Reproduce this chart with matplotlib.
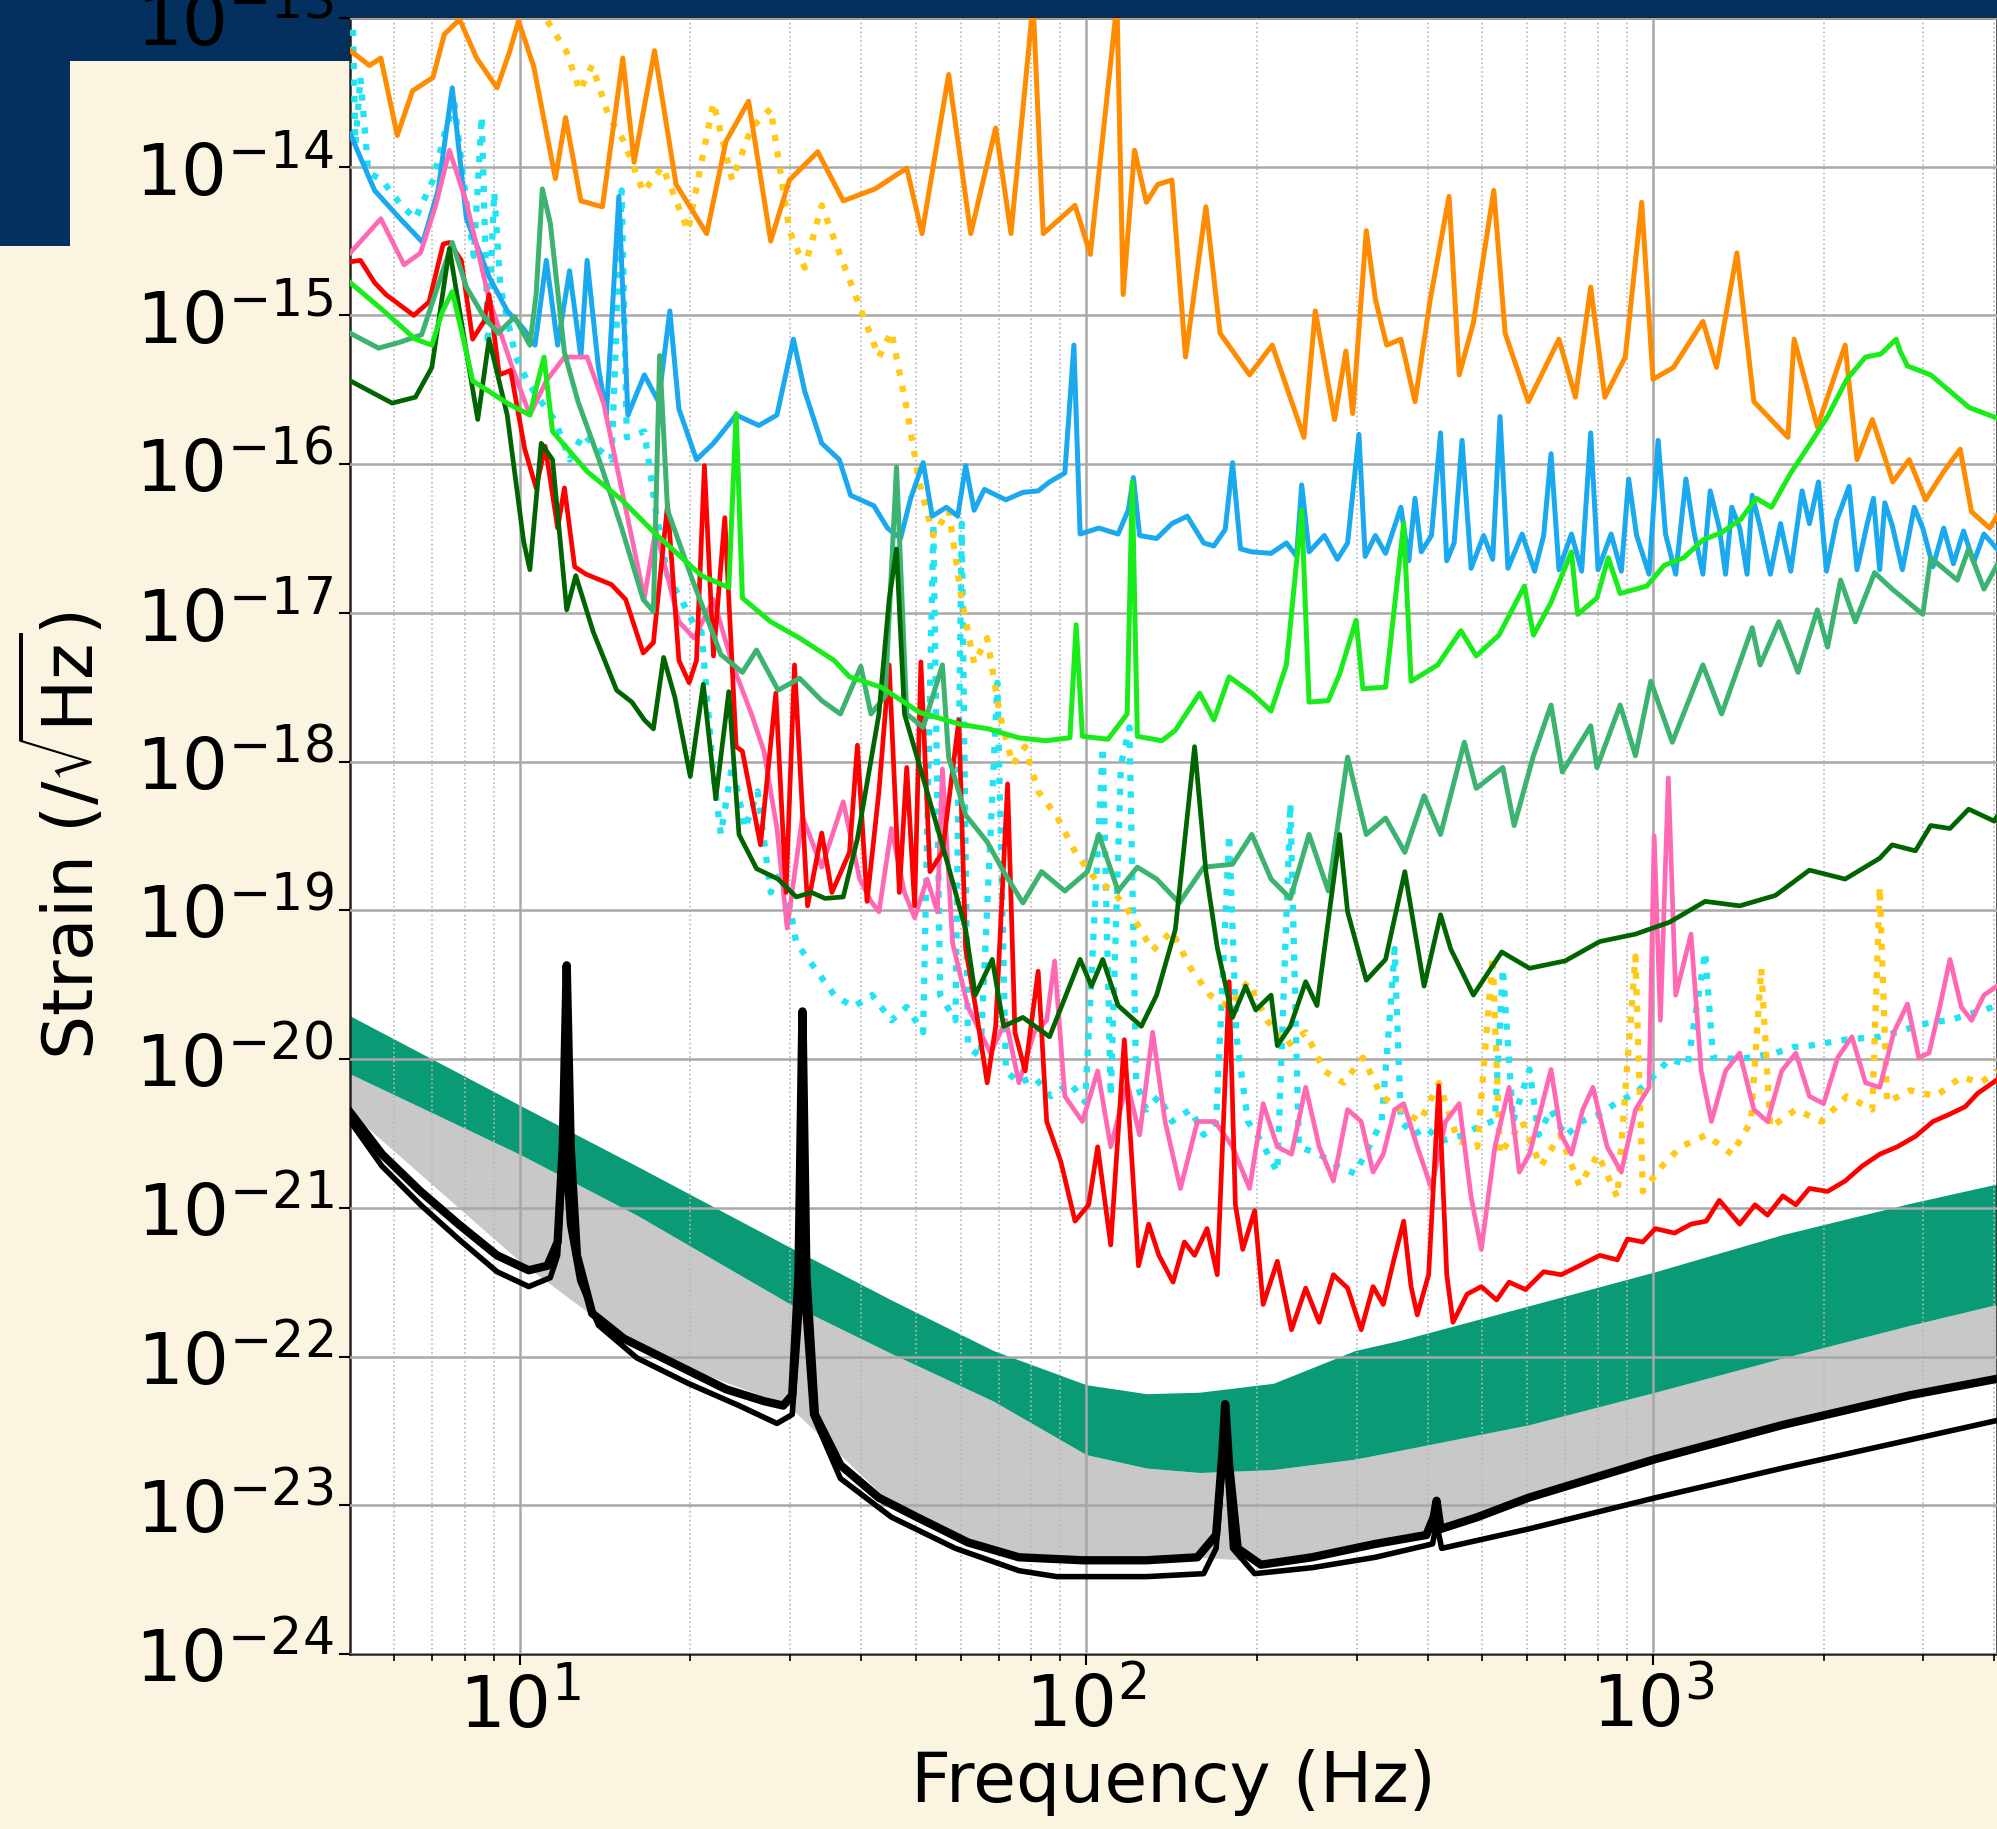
import numpy as np
import matplotlib
matplotlib.use("Agg")
import matplotlib.pyplot as plt
from matplotlib.patches import Rectangle
from matplotlib.ticker import LogLocator, NullLocator

# values as (log10 frequency [Hz], log10 strain)

# design band: shared frequencies, green top / green bottom / grey bottom
band_lf = [0.701, 1.000, 1.207, 1.474, 1.656, 1.836, 2.000, 2.106, 2.200, 2.330,
           2.474, 2.555, 2.780, 3.004, 3.229, 3.454, 3.607]
green_top = [-19.71, -20.31, -20.72, -21.26, -21.62, -21.96, -22.19, -22.25, -22.24, -22.18,
             -21.96, -21.89, -21.66, -21.43, -21.18, -20.97, -20.84]
green_bot = [-20.10, -20.64, -21.05, -21.64, -21.98, -22.30, -22.66, -22.75, -22.78, -22.76,
             -22.69, -22.63, -22.46, -22.24, -22.01, -21.79, -21.65]
gray_bot = [-20.36, -21.36, -21.95, -22.33, -22.99, -23.31, -23.37, -23.37, -23.35, -23.38,
            -23.29, -23.23, -22.95, -22.69, -22.46, -22.26, -22.15]

black_upper = [(0.701, -20.36), (0.757, -20.64), (0.825, -20.89), (0.892, -21.11), (0.960, -21.32),
               (1.016, -21.42), (1.049, -21.39), (1.067, -21.23), (1.076, -20.59), (1.083, -19.37),
               (1.090, -20.59), (1.101, -21.32), (1.128, -21.71), (1.184, -21.88), (1.274, -22.05),
               (1.364, -22.22), (1.431, -22.30), (1.465, -22.33), (1.481, -22.26), (1.492, -21.45),
               (1.499, -19.68), (1.506, -21.45), (1.521, -22.39), (1.566, -22.73), (1.634, -22.95),
               (1.701, -23.08), (1.791, -23.25), (1.881, -23.35), (1.993, -23.37), (2.106, -23.37),
               (2.196, -23.35), (2.229, -23.20), (2.240, -22.65), (2.245, -22.32), (2.252, -22.73),
               (2.267, -23.29), (2.308, -23.40), (2.398, -23.35), (2.510, -23.26), (2.600, -23.20),
               (2.613, -23.08), (2.618, -22.97), (2.625, -23.16), (2.690, -23.08), (2.780, -22.95),
               (3.004, -22.69), (3.229, -22.46), (3.454, -22.26), (3.607, -22.15)]

black_lower = [(0.701, -20.42), (0.757, -20.72), (0.825, -20.98), (0.892, -21.21), (0.960, -21.43),
               (1.016, -21.53), (1.054, -21.47), (1.067, -21.32), (1.079, -20.59), (1.088, -21.11),
               (1.106, -21.49), (1.139, -21.79), (1.207, -22.01), (1.297, -22.18), (1.387, -22.33),
               (1.454, -22.45), (1.481, -22.39), (1.499, -21.45), (1.517, -22.39), (1.566, -22.82),
               (1.656, -23.08), (1.769, -23.29), (1.881, -23.44), (1.948, -23.48), (2.106, -23.48),
               (2.207, -23.46), (2.229, -23.29), (2.245, -22.56), (2.258, -23.29), (2.297, -23.46),
               (2.398, -23.42), (2.510, -23.35), (2.611, -23.26), (2.618, -23.12), (2.627, -23.29),
               (2.780, -23.16), (3.004, -22.95), (3.229, -22.75), (3.454, -22.56), (3.607, -22.43)]

orange = [(0.701, -13.22), (0.735, -13.32), (0.755, -13.27), (0.784, -13.79), (0.811, -13.49),
          (0.847, -13.40), (0.867, -13.11), (0.894, -13.01), (0.924, -13.27), (0.960, -13.47),
          (0.982, -13.23), (0.998, -13.02), (1.025, -13.33), (1.063, -14.08), (1.081, -13.67),
          (1.108, -14.23), (1.146, -14.27), (1.182, -13.27), (1.202, -13.97), (1.238, -13.22),
          (1.276, -14.12), (1.330, -14.45), (1.364, -13.83), (1.404, -13.56), (1.443, -14.50),
          (1.476, -14.09), (1.526, -13.90), (1.571, -14.23), (1.627, -14.15), (1.683, -14.01),
          (1.710, -14.45), (1.757, -13.38), (1.796, -14.45), (1.840, -13.74), (1.867, -14.45),
          (1.906, -12.90), (1.924, -14.45), (1.980, -14.26), (2.007, -14.59), (2.054, -12.90),
          (2.065, -14.86), (2.085, -13.89), (2.106, -14.24), (2.126, -14.12), (2.151, -14.09),
          (2.175, -15.28), (2.211, -14.27), (2.236, -15.12), (2.288, -15.40), (2.328, -15.20),
          (2.384, -15.82), (2.404, -14.97), (2.438, -15.70), (2.458, -15.24), (2.470, -15.66),
          (2.494, -14.43), (2.510, -14.89), (2.530, -15.20), (2.555, -15.16), (2.580, -15.58),
          (2.607, -14.89), (2.640, -14.20), (2.658, -15.40), (2.683, -15.05), (2.719, -14.16),
          (2.739, -15.12), (2.780, -15.58), (2.834, -15.16), (2.863, -15.55), (2.890, -14.81),
          (2.915, -15.55), (2.951, -15.28), (2.980, -14.24), (3.000, -15.43), (3.036, -15.35),
          (3.088, -15.04), (3.112, -15.35), (3.148, -14.58), (3.178, -15.58), (3.238, -15.82),
          (3.249, -15.16), (3.290, -15.75), (3.339, -15.20), (3.360, -15.97), (3.387, -15.70),
          (3.423, -16.12), (3.452, -15.97), (3.481, -16.24), (3.513, -16.05), (3.542, -15.90),
          (3.562, -16.32), (3.594, -16.43), (3.607, -16.35)]

gold = [(1.049, -13.02), (1.083, -13.23), (1.106, -13.49), (1.128, -13.32), (1.157, -13.66),
        (1.184, -13.83), (1.218, -14.17), (1.252, -14.00), (1.297, -14.43), (1.324, -13.91),
        (1.342, -13.57), (1.375, -14.09), (1.409, -13.74), (1.443, -13.61), (1.476, -14.43),
        (1.503, -14.68), (1.533, -14.26), (1.566, -14.60), (1.600, -14.94), (1.634, -15.28),
        (1.656, -15.11), (1.683, -15.63), (1.706, -16.14), (1.730, -16.48), (1.757, -16.31),
        (1.780, -16.91), (1.802, -17.34), (1.825, -17.17), (1.847, -17.68), (1.870, -18.02),
        (1.892, -17.90), (1.915, -18.20), (1.948, -18.37), (1.982, -18.62), (2.016, -18.79),
        (2.049, -18.88), (2.083, -19.05), (2.117, -19.27), (2.151, -19.14), (2.184, -19.39),
        (2.218, -19.57), (2.252, -19.65), (2.285, -19.48), (2.319, -19.74), (2.353, -19.91),
        (2.387, -19.82), (2.420, -20.08), (2.454, -20.16), (2.488, -19.99), (2.521, -20.25),
        (2.555, -20.34), (2.589, -20.42), (2.622, -20.16), (2.656, -20.55), (2.690, -20.59),
        (2.717, -19.31), (2.730, -20.64), (2.769, -20.42), (2.802, -20.72), (2.836, -20.51),
        (2.870, -20.85), (2.903, -20.64), (2.937, -20.93), (2.969, -19.31), (2.982, -20.89),
        (3.016, -20.72), (3.049, -20.59), (3.094, -20.51), (3.139, -20.64), (3.173, -20.42),
        (3.191, -19.39), (3.207, -20.46), (3.252, -20.34), (3.297, -20.42), (3.342, -20.25),
        (3.387, -20.34), (3.400, -18.84), (3.413, -20.29), (3.454, -20.21), (3.499, -20.25),
        (3.544, -20.12), (3.578, -20.16), (3.607, -20.08)]

blue = [(0.701, -13.78), (0.744, -14.16), (0.789, -14.35), (0.829, -14.51), (0.856, -14.16),
        (0.881, -13.47), (0.906, -14.35), (0.946, -14.74), (0.978, -14.97), (1.007, -15.09),
        (1.027, -15.20), (1.047, -14.63), (1.067, -15.20), (1.088, -14.70), (1.108, -15.28),
        (1.119, -14.63), (1.139, -15.35), (1.153, -15.67), (1.175, -14.20), (1.191, -15.67),
        (1.220, -15.40), (1.245, -15.58), (1.265, -14.97), (1.281, -15.63), (1.312, -15.97),
        (1.342, -15.86), (1.382, -15.67), (1.422, -15.74), (1.454, -15.67), (1.483, -15.16),
        (1.503, -15.51), (1.533, -15.86), (1.564, -15.97), (1.584, -16.21), (1.625, -16.28),
        (1.649, -16.43), (1.672, -16.50), (1.690, -16.23), (1.712, -15.99), (1.728, -16.35),
        (1.753, -16.29), (1.773, -16.35), (1.787, -16.01), (1.802, -16.31), (1.820, -16.17),
        (1.858, -16.24), (1.888, -16.19), (1.915, -16.18), (1.935, -16.12), (1.962, -16.06),
        (1.978, -15.20), (1.989, -16.47), (2.022, -16.43), (2.056, -16.47), (2.074, -16.31),
        (2.083, -16.09), (2.094, -16.48), (2.124, -16.50), (2.151, -16.40), (2.178, -16.35),
        (2.207, -16.53), (2.225, -16.55), (2.245, -16.44), (2.258, -15.99), (2.272, -16.57),
        (2.292, -16.59), (2.326, -16.60), (2.353, -16.53), (2.371, -16.62), (2.380, -16.14),
        (2.393, -16.59), (2.420, -16.48), (2.443, -16.64), (2.461, -16.53), (2.481, -15.80),
        (2.492, -16.62), (2.510, -16.48), (2.528, -16.60), (2.555, -16.29), (2.569, -16.65),
        (2.580, -16.23), (2.591, -16.59), (2.609, -16.48), (2.625, -15.79), (2.636, -16.65),
        (2.649, -16.53), (2.663, -15.84), (2.679, -16.70), (2.701, -16.48), (2.717, -16.64),
        (2.730, -15.68), (2.744, -16.70), (2.769, -16.47), (2.791, -16.72), (2.807, -16.48),
        (2.820, -15.93), (2.834, -16.71), (2.856, -16.47), (2.874, -16.72), (2.890, -15.79),
        (2.903, -16.71), (2.926, -16.47), (2.944, -16.72), (2.957, -16.10), (2.971, -16.48),
        (2.993, -16.74), (3.009, -15.84), (3.022, -16.47), (3.040, -16.74), (3.058, -16.10),
        (3.072, -16.45), (3.088, -16.74), (3.101, -16.18), (3.117, -16.43), (3.128, -16.74),
        (3.139, -16.29), (3.153, -16.43), (3.166, -16.74), (3.175, -16.21), (3.189, -16.42),
        (3.207, -16.74), (3.225, -16.40), (3.243, -16.72), (3.263, -16.18), (3.276, -16.40),
        (3.292, -16.12), (3.306, -16.72), (3.324, -16.38), (3.346, -16.15), (3.360, -16.71),
        (3.378, -16.40), (3.389, -16.23), (3.400, -16.71), (3.409, -16.26), (3.422, -16.41),
        (3.440, -16.71), (3.461, -16.29), (3.476, -16.43), (3.494, -16.69), (3.513, -16.43),
        (3.530, -16.67), (3.548, -16.45), (3.566, -16.66), (3.584, -16.47), (3.607, -16.57)]

lime = [(0.701, -14.78), (0.757, -14.96), (0.816, -15.16), (0.845, -15.20), (0.863, -14.98),
        (0.881, -14.84), (0.899, -15.13), (0.917, -15.44), (0.978, -15.59), (1.018, -15.67),
        (1.031, -15.46), (1.043, -15.28), (1.058, -15.78), (1.119, -16.05), (1.180, -16.24),
        (1.240, -16.47), (1.321, -16.75), (1.369, -16.83), (1.382, -15.66), (1.393, -16.90),
        (1.443, -17.06), (1.494, -17.17), (1.555, -17.32), (1.582, -17.43), (1.638, -17.50),
        (1.706, -17.67), (1.778, -17.75), (1.827, -17.78), (1.881, -17.84), (1.928, -17.86),
        (1.971, -17.84), (1.982, -17.08), (1.993, -17.83), (2.038, -17.85), (2.072, -17.68),
        (2.081, -16.12), (2.090, -17.83), (2.133, -17.86), (2.157, -17.79), (2.200, -17.54),
        (2.225, -17.72), (2.252, -17.43), (2.292, -17.54), (2.326, -17.66), (2.353, -17.35),
        (2.380, -16.31), (2.393, -17.60), (2.427, -17.59), (2.447, -17.41), (2.476, -17.05),
        (2.488, -17.51), (2.528, -17.50), (2.560, -16.40), (2.573, -17.46), (2.620, -17.35),
        (2.661, -17.12), (2.688, -17.29), (2.728, -17.15), (2.773, -16.82), (2.789, -17.15),
        (2.820, -16.93), (2.856, -16.59), (2.867, -17.01), (2.901, -16.90), (2.921, -16.63),
        (2.942, -16.87), (2.989, -16.82), (3.020, -16.68), (3.054, -16.63), (3.088, -16.51),
        (3.121, -16.46), (3.155, -16.37), (3.182, -16.23), (3.209, -16.29), (3.243, -16.06),
        (3.276, -15.87), (3.308, -15.68), (3.342, -15.43), (3.375, -15.28), (3.402, -15.26),
        (3.429, -15.16), (3.436, -15.24), (3.449, -15.34), (3.490, -15.40), (3.524, -15.51),
        (3.558, -15.62), (3.607, -15.69)]

seagreen = [(0.701, -15.12), (0.751, -15.22), (0.789, -15.18), (0.827, -15.13), (0.861, -14.74),
            (0.881, -14.51), (0.906, -14.81), (0.937, -15.01), (0.962, -15.12), (0.991, -15.01),
            (1.018, -15.20), (1.029, -14.86), (1.040, -14.15), (1.054, -14.38), (1.079, -15.25),
            (1.103, -15.58), (1.142, -15.99), (1.180, -16.43), (1.218, -16.91), (1.236, -16.99),
            (1.247, -15.27), (1.261, -16.31), (1.306, -16.79), (1.355, -17.28), (1.393, -17.40),
            (1.418, -17.25), (1.456, -17.52), (1.494, -17.44), (1.533, -17.59), (1.566, -17.68),
            (1.602, -17.36), (1.620, -17.68), (1.645, -17.56), (1.665, -16.02), (1.683, -17.68),
            (1.712, -17.77), (1.746, -17.35), (1.757, -17.97), (1.787, -18.36), (1.825, -18.54),
            (1.854, -18.74), (1.888, -18.95), (1.921, -18.74), (1.962, -18.87), (2.002, -18.74),
            (2.022, -18.49), (2.056, -18.87), (2.090, -18.71), (2.124, -18.79), (2.164, -18.95),
            (2.207, -18.71), (2.258, -18.69), (2.292, -18.49), (2.326, -18.79), (2.360, -18.92),
            (2.393, -18.49), (2.427, -18.87), (2.461, -17.97), (2.494, -18.49), (2.528, -18.38),
            (2.562, -18.61), (2.596, -18.23), (2.625, -18.49), (2.667, -17.87), (2.688, -18.18),
            (2.735, -18.04), (2.755, -18.43), (2.789, -17.96), (2.820, -17.62), (2.840, -18.07),
            (2.890, -17.76), (2.901, -18.04), (2.942, -17.62), (2.969, -17.96), (2.996, -17.46),
            (3.034, -17.87), (3.088, -17.35), (3.121, -17.68), (3.175, -17.10), (3.189, -17.35),
            (3.222, -17.06), (3.256, -17.40), (3.290, -16.98), (3.308, -17.23), (3.331, -16.78),
            (3.357, -17.06), (3.391, -16.73), (3.422, -16.84), (3.476, -17.01), (3.490, -16.63),
            (3.537, -16.78), (3.557, -16.57), (3.584, -16.84), (3.607, -16.68)]

darkgreen = [(0.701, -15.44), (0.775, -15.59), (0.816, -15.55), (0.845, -15.35), (0.876, -14.55),
             (0.897, -15.04), (0.926, -15.70), (0.946, -15.16), (0.978, -15.67), (1.007, -16.52),
             (1.018, -16.71), (1.038, -15.86), (1.058, -15.97), (1.083, -16.98), (1.099, -16.75),
             (1.130, -17.13), (1.171, -17.52), (1.198, -17.60), (1.220, -17.72), (1.236, -17.78),
             (1.254, -17.30), (1.274, -17.57), (1.301, -18.10), (1.324, -17.48), (1.346, -18.25),
             (1.369, -17.53), (1.387, -18.49), (1.418, -18.72), (1.456, -18.79), (1.488, -18.91),
             (1.515, -18.88), (1.539, -18.92), (1.571, -18.91), (1.596, -18.52), (1.634, -17.68),
             (1.652, -16.91), (1.665, -16.57), (1.679, -17.68), (1.712, -18.11), (1.757, -18.71),
             (1.787, -19.13), (1.804, -19.57), (1.834, -19.33), (1.854, -19.78), (1.888, -19.72),
             (1.935, -19.85), (1.989, -19.33), (2.009, -19.51), (2.029, -19.33), (2.056, -19.64),
             (2.097, -19.78), (2.124, -19.57), (2.157, -19.13), (2.191, -17.90), (2.211, -18.74),
             (2.231, -19.25), (2.258, -19.72), (2.281, -19.51), (2.299, -19.67), (2.326, -19.57),
             (2.337, -19.91), (2.360, -19.78), (2.387, -19.48), (2.407, -19.64), (2.447, -18.49),
             (2.461, -19.01), (2.494, -19.47), (2.528, -19.33), (2.562, -18.74), (2.596, -19.51),
             (2.625, -19.03), (2.643, -19.26), (2.683, -19.57), (2.733, -19.28), (2.782, -19.39),
             (2.845, -19.34), (2.906, -19.21), (2.969, -19.16), (3.029, -19.08), (3.092, -18.94),
             (3.153, -18.97), (3.216, -18.90), (3.276, -18.73), (3.339, -18.79), (3.400, -18.65),
             (3.422, -18.56), (3.463, -18.60), (3.490, -18.43), (3.524, -18.45), (3.557, -18.32),
             (3.602, -18.40), (3.607, -18.37)]

red = [(0.701, -14.64), (0.719, -14.63), (0.744, -14.78), (0.764, -14.86), (0.813, -15.00),
       (0.840, -14.91), (0.865, -14.52), (0.876, -14.51), (0.897, -14.63), (0.917, -15.16),
       (0.937, -15.04), (0.946, -14.86), (0.964, -15.40), (0.984, -15.37), (1.009, -15.90),
       (1.029, -16.16), (1.045, -15.88), (1.067, -16.43), (1.079, -16.16), (1.097, -16.69),
       (1.117, -16.74), (1.162, -16.81), (1.187, -16.91), (1.218, -17.27), (1.236, -17.20),
       (1.261, -16.27), (1.281, -17.32), (1.299, -17.47), (1.312, -17.32), (1.326, -16.01),
       (1.342, -17.29), (1.362, -16.36), (1.382, -17.90), (1.393, -17.93), (1.425, -18.56),
       (1.452, -17.54), (1.470, -18.88), (1.485, -17.35), (1.508, -18.97), (1.533, -18.48),
       (1.551, -18.88), (1.582, -18.61), (1.596, -17.89), (1.613, -18.94), (1.634, -18.20),
       (1.652, -17.35), (1.670, -18.88), (1.683, -18.04), (1.697, -18.97), (1.708, -17.33),
       (1.724, -18.74), (1.746, -18.61), (1.775, -17.72), (1.787, -19.26), (1.804, -19.64),
       (1.825, -20.16), (1.840, -19.78), (1.861, -18.15), (1.874, -19.82), (1.892, -20.08),
       (1.915, -19.41), (1.930, -20.42), (1.955, -20.69), (1.980, -21.09), (2.004, -20.98),
       (2.020, -20.59), (2.043, -21.25), (2.067, -19.87), (2.092, -21.39), (2.110, -21.11),
       (2.128, -21.32), (2.153, -21.50), (2.173, -21.23), (2.191, -21.32), (2.213, -21.14),
       (2.231, -21.45), (2.252, -19.48), (2.263, -20.98), (2.276, -21.28), (2.297, -21.02),
       (2.312, -21.65), (2.337, -21.36), (2.362, -21.82), (2.387, -21.54), (2.411, -21.77),
       (2.436, -21.45), (2.461, -21.54), (2.485, -21.82), (2.506, -21.53), (2.524, -21.65),
       (2.542, -21.36), (2.560, -21.09), (2.573, -21.53), (2.584, -21.72), (2.604, -21.45),
       (2.622, -20.18), (2.636, -21.45), (2.647, -21.77), (2.672, -21.58), (2.697, -21.53),
       (2.724, -21.62), (2.746, -21.50), (2.775, -21.55), (2.807, -21.43), (2.838, -21.45),
       (2.870, -21.39), (2.906, -21.32), (2.937, -21.35), (2.955, -21.21), (2.982, -21.23),
       (3.004, -21.14), (3.038, -21.17), (3.067, -21.11), (3.094, -21.09), (3.117, -20.95),
       (3.153, -21.11), (3.180, -20.98), (3.202, -21.05), (3.229, -20.92), (3.252, -20.98),
       (3.276, -20.87), (3.308, -20.89), (3.339, -20.82), (3.369, -20.72), (3.400, -20.64),
       (3.431, -20.59), (3.463, -20.52), (3.494, -20.42), (3.524, -20.37), (3.551, -20.32),
       (3.573, -20.23), (3.607, -20.14)]

pink = [(0.701, -14.58), (0.755, -14.35), (0.796, -14.66), (0.825, -14.58), (0.852, -14.26),
        (0.876, -13.89), (0.906, -14.24), (0.946, -14.89), (0.987, -15.35), (1.018, -15.67),
        (1.047, -15.44), (1.079, -15.28), (1.119, -15.28), (1.148, -15.59), (1.180, -16.17),
        (1.220, -16.90), (1.240, -16.44), (1.281, -17.06), (1.308, -17.17), (1.342, -16.91),
        (1.375, -17.34), (1.409, -17.68), (1.431, -17.93), (1.454, -18.45), (1.472, -19.12),
        (1.499, -18.37), (1.533, -18.71), (1.571, -18.27), (1.600, -18.79), (1.620, -18.94),
        (1.634, -19.01), (1.656, -18.45), (1.679, -18.88), (1.697, -19.05), (1.719, -18.79),
        (1.737, -19.01), (1.746, -18.05), (1.764, -19.22), (1.791, -19.65), (1.831, -19.96),
        (1.858, -19.74), (1.881, -20.16), (1.908, -19.82), (1.930, -19.74), (1.944, -19.34),
        (1.962, -20.25), (1.993, -20.42), (2.020, -20.08), (2.043, -20.59), (2.072, -20.16),
        (2.094, -20.51), (2.117, -19.82), (2.139, -20.42), (2.166, -20.87), (2.196, -20.42),
        (2.227, -20.42), (2.258, -20.59), (2.288, -20.87), (2.312, -20.30), (2.337, -20.59),
        (2.362, -20.64), (2.387, -20.19), (2.411, -20.59), (2.436, -20.82), (2.461, -20.34),
        (2.485, -20.42), (2.506, -20.76), (2.524, -20.64), (2.544, -20.34), (2.560, -20.30),
        (2.584, -20.59), (2.609, -20.87), (2.634, -20.42), (2.658, -20.30), (2.679, -20.93),
        (2.697, -21.28), (2.721, -20.59), (2.746, -20.19), (2.764, -20.76), (2.782, -20.64),
        (2.802, -20.34), (2.820, -20.07), (2.838, -20.51), (2.856, -20.64), (2.876, -20.34),
        (2.894, -20.19), (2.919, -20.59), (2.944, -20.76), (2.969, -20.34), (2.993, -20.19),
        (3.002, -18.50), (3.013, -19.74), (3.027, -18.11), (3.040, -19.57), (3.067, -19.16),
        (3.085, -20.08), (3.103, -20.42), (3.128, -20.08), (3.153, -19.96), (3.178, -20.34),
        (3.202, -20.42), (3.227, -20.08), (3.252, -19.96), (3.276, -20.25), (3.301, -20.30),
        (3.326, -19.99), (3.351, -19.85), (3.375, -20.16), (3.400, -20.19), (3.425, -19.82),
        (3.449, -19.63), (3.469, -19.99), (3.487, -19.96), (3.506, -19.65), (3.524, -19.33),
        (3.544, -19.65), (3.562, -19.74), (3.584, -19.57), (3.607, -19.51)]

cyan = [(0.706, -13.08), (0.710, -13.85), (0.719, -13.40), (0.733, -14.04), (0.757, -14.09),
        (0.791, -14.26), (0.816, -14.35), (0.847, -14.09), (0.870, -13.74), (0.885, -13.58),
        (0.901, -14.09), (0.919, -14.60), (0.933, -13.66), (0.944, -15.20), (0.955, -14.17),
        (0.966, -14.81), (0.993, -15.28), (1.016, -15.46), (1.038, -15.58), (1.063, -15.71),
        (1.088, -15.97), (1.112, -15.80), (1.139, -15.90), (1.162, -15.97), (1.180, -14.16),
        (1.189, -15.82), (1.220, -15.78), (1.240, -16.31), (1.261, -16.75), (1.285, -16.91),
        (1.308, -17.08), (1.321, -17.13), (1.333, -17.68), (1.342, -18.09), (1.355, -18.49),
        (1.375, -18.02), (1.398, -18.45), (1.420, -18.20), (1.443, -18.88), (1.465, -18.71),
        (1.488, -19.22), (1.521, -19.39), (1.555, -19.57), (1.589, -19.65), (1.622, -19.57),
        (1.656, -19.74), (1.683, -19.65), (1.712, -19.82), (1.730, -16.40), (1.742, -19.57),
        (1.769, -19.74), (1.780, -16.40), (1.791, -19.91), (1.813, -19.99), (1.843, -17.47),
        (1.858, -20.08), (1.881, -20.16), (1.908, -20.12), (1.937, -20.25), (1.971, -20.16),
        (1.998, -20.29), (2.029, -17.90), (2.043, -20.25), (2.061, -18.02), (2.076, -17.77),
        (2.088, -20.16), (2.106, -20.34), (2.128, -20.25), (2.151, -20.42), (2.184, -20.34),
        (2.207, -20.51), (2.229, -20.42), (2.252, -18.49), (2.265, -19.85), (2.285, -20.42),
        (2.308, -20.55), (2.337, -20.76), (2.360, -18.28), (2.375, -20.59), (2.411, -20.64),
        (2.443, -20.72), (2.474, -20.77), (2.499, -20.59), (2.521, -20.42), (2.535, -19.74),
        (2.544, -19.26), (2.555, -20.42), (2.578, -20.51), (2.598, -20.46), (2.627, -20.55),
        (2.658, -20.52), (2.690, -20.46), (2.721, -20.41), (2.735, -19.39), (2.753, -20.42),
        (2.782, -20.07), (2.798, -20.51), (2.820, -20.34), (2.845, -20.52), (2.874, -20.42),
        (2.906, -20.37), (2.937, -20.29), (2.969, -20.23), (3.000, -20.12), (3.029, -20.00),
        (3.061, -20.04), (3.092, -19.28), (3.106, -19.99), (3.153, -20.00), (3.184, -19.98),
        (3.216, -19.96), (3.247, -19.92), (3.276, -19.91), (3.308, -19.89), (3.339, -19.87),
        (3.369, -19.86), (3.400, -19.85), (3.431, -19.82), (3.463, -19.78), (3.494, -19.75),
        (3.524, -19.74), (3.555, -19.70), (3.584, -19.67), (3.607, -19.64)]

y_decades = list(range(-24, -12))


def unpack(points):
    arr = np.array(points)
    return 10 ** arr[:, 0], 10 ** arr[:, 1]


navy = "#03305f"
cream = "#fbf4e1"

fig = plt.figure(figsize=(19.97, 18.29), dpi=100, facecolor=cream)

# slide background pieces around the figure
for x0, y0, w, h in [(0, 0.9896, 1, 0.0104), (0, 0.9667, 0.1753, 0.0333), (0, 0.8655, 0.0351, 0.1345)]:
    fig.patches.append(Rectangle((x0, y0), w, h, transform=fig.transFigure,
                                 facecolor=navy, edgecolor="none", zorder=-5))

ax = fig.add_axes([0.1753, 0.0957, 0.8247, 0.8945])
ax.set_xscale("log")
ax.set_yscale("log")

bf = 10 ** np.array(band_lf)
ax.fill_between(bf, 10 ** np.array(gray_bot), 10 ** np.array(green_bot),
                color="#c8c8c8", lw=0, zorder=1)
ax.fill_between(bf, 10 ** np.array(green_bot), 10 ** np.array(green_top),
                color="#0a9a76", lw=0, zorder=1.1)

f, h = unpack(black_lower)
ax.plot(f, h, color="black", lw=4.0, zorder=3, solid_joinstyle="round")
f, h = unpack(black_upper)
ax.plot(f, h, color="black", lw=6.0, zorder=3.1, solid_joinstyle="round")

curves = [
    (cyan, "#1ee4f4", ":", 4.5),
    (gold, "#ffc914", ":", 4.5),
    (orange, "#ff8c00", "-", 3.6),
    (blue, "#1aa9ee", "-", 3.6),
    (pink, "#ff69b4", "-", 3.4),
    (red, "#ff0000", "-", 3.4),
    (seagreen, "#3cb371", "-", 3.6),
    (darkgreen, "#006400", "-", 3.4),
    (lime, "#1aeb1a", "-", 3.6),
]
for i, (pts, col, ls, lw) in enumerate(curves):
    f, h = unpack(pts)
    ax.plot(f, h, color=col, ls=ls, lw=lw, zorder=4 + i * 0.1)

ax.set_xlim(5.02, 10 ** 3.607)
ax.set_ylim(1e-24, 1e-13)
ax.set_yticks([10.0 ** d for d in y_decades])
ax.yaxis.set_minor_locator(NullLocator())
ax.xaxis.set_major_locator(LogLocator(base=10, numticks=10))
ax.xaxis.set_minor_locator(LogLocator(base=10, subs=np.arange(2, 10), numticks=10))

ax.set_axisbelow(False)
ax.grid(True, which="major", color="#a8a8a8", lw=1.8, zorder=2.5)
ax.grid(True, which="minor", axis="x", color="#b8b8b8", lw=1.2, ls=":", zorder=2.5)

ax.tick_params(axis="both", which="major", labelsize=52, length=8, width=1.5, pad=4)
ax.tick_params(axis="x", which="minor", length=5, width=1.2)
for sp in ax.spines.values():
    sp.set_linewidth(1.8)
    sp.set_color("#222222")

ax.set_xlabel("Frequency (Hz)", fontsize=50)
ax.set_ylabel(r"Strain ($/\sqrt{\mathrm{Hz}}$)", fontsize=50)
ax.xaxis.set_label_coords(0.5, -0.058)
ax.yaxis.set_label_coords(-0.147, 0.5)

fig.savefig("out.png", dpi=100, facecolor=fig.get_facecolor())
